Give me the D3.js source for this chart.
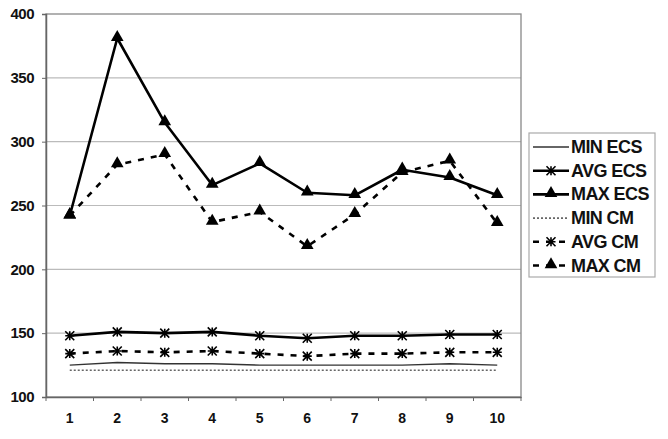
<!DOCTYPE html>
<html>
<head>
<meta charset="utf-8">
<script src="https://cdn.jsdelivr.net/npm/d3@7"></script>
<style>
  body { margin: 0; background: #fff; }
  text { font-family: "Liberation Sans", Arial, sans-serif; fill: #111; }
</style>
</head>
<body>
<svg id="chart" width="668" height="439"></svg>
<script>
// data
const categories = ["1","2","3","4","5","6","7","8","9","10"];
const yTicks = [100,150,200,250,300,350,400];

const minEcs = [125,127,126,126,125,125,125,125,126,125];
const avgEcs = [148,151,150,151,148,146,148,148,149,149];
const maxEcs = [242,381,315,266,283,260,258,278,272,258];
const minCm  = [121,121,121,121,121,121,121,121,121,121];
const avgCm  = [134,136,135,136,134,132,134,134,135,135];
const maxCm  = [242,282,290,237,245,218,243,276,285,236];

const seriesNames = ["MIN ECS","AVG ECS","MAX ECS","MIN CM","AVG CM","MAX CM"];

// style per series
const styles = [
  {vals: minEcs, stroke:"#333", width:1.4, dash:null,   marker:null},
  {vals: avgEcs, stroke:"#000", width:2.6, dash:null,   marker:"star"},
  {vals: maxEcs, stroke:"#000", width:2.6, dash:null,   marker:"tri"},
  {vals: minCm,  stroke:"#666", width:1.6, dash:"2,2",  marker:null},
  {vals: avgCm,  stroke:"#000", width:2.6, dash:"6,7",  marker:"star"},
  {vals: maxCm,  stroke:"#000", width:2.6, dash:"6,7",  marker:"tri"}
];

const svg = d3.select("#chart");
const m = {left:46, right:521, top:14, bottom:397};

const x = d3.scaleBand().domain(categories).range([m.left, m.right]);
const y = d3.scaleLinear().domain([100,400]).range([m.bottom, m.top]);

// gridlines
svg.append("g").selectAll("line")
  .data(yTicks.filter(d => d>100 && d<400))
  .enter().append("line")
  .attr("x1", m.left).attr("x2", m.right)
  .attr("y1", d => y(d)).attr("y2", d => y(d))
  .attr("stroke", "#bbb").attr("stroke-width", 1.2);

// frame
svg.append("rect")
  .attr("x", m.left).attr("y", m.top)
  .attr("width", m.right-m.left).attr("height", m.bottom-m.top)
  .attr("fill","none").attr("stroke","#888").attr("stroke-width",1.3);

// y axis
const yAxis = svg.append("g")
  .attr("transform", `translate(${m.left},0)`)
  .call(d3.axisLeft(y).tickValues(yTicks).tickSize(4).tickPadding(8));
yAxis.select(".domain").attr("stroke","#666").attr("stroke-width",1.5);
yAxis.selectAll(".tick line").attr("stroke","#666");
yAxis.selectAll("text").attr("font-size", 15).style("font-weight","bold").attr("fill","#222")
  .attr("letter-spacing", -0.5);

// x axis, ticks between categories
const xAxis = svg.append("g")
  .attr("transform", `translate(0,${m.bottom})`)
  .call(d3.axisBottom(x).tickSize(0).tickPadding(16));
xAxis.select(".domain").attr("stroke","#666").attr("stroke-width",1.5);
xAxis.selectAll("text").attr("font-size", 14).style("font-weight","bold").attr("fill","#222");
xAxis.selectAll(".sep")
  .data(d3.range(categories.length+1))
  .enter().append("line")
  .attr("x1", i => m.left + i*x.bandwidth()).attr("x2", i => m.left + i*x.bandwidth())
  .attr("y1", 0).attr("y2", 4).attr("stroke","#666");

const line = d3.line()
  .x((d,i) => x(categories[i]) + x.bandwidth()/2)
  .y(d => y(d));

function drawMarker(g, type, cx, cy){
  if(type == "tri"){
    g.append("path")
      .attr("d", d3.symbol().type(d3.symbolTriangle).size(70)())
      .attr("transform", `translate(${cx},${cy-1})`)
      .attr("fill","#000");
  }
  else if(type == "star"){
    const r = 4.5;
    g.append("path")
      .attr("d", `M${cx-r},${cy-r}L${cx+r},${cy+r}M${cx-r},${cy+r}L${cx+r},${cy-r}M${cx},${cy-r}L${cx},${cy+r}M${cx-r},${cy}L${cx+r},${cy}`)
      .attr("stroke","#000").attr("stroke-width",1.6).attr("fill","none");
  }
}

// series
styles.forEach(s => {
  const g = svg.append("g");
  g.append("path")
    .datum(s.vals)
    .attr("d", line)
    .attr("fill","none")
    .attr("stroke", s.stroke)
    .attr("stroke-width", s.width)
    .attr("stroke-dasharray", s.dash)
    .attr("stroke-linejoin","round");
  if(s.marker) s.vals.forEach((v,i) => drawMarker(g, s.marker, x(categories[i]) + x.bandwidth()/2, y(v)));
});

// legend
const leg = svg.append("g");
leg.append("rect")
  .attr("x", 529).attr("y", 133).attr("width", 126).attr("height", 144)
  .attr("fill","#fff").attr("stroke","#aaa").attr("stroke-width",1.2);

seriesNames.forEach((name, i) => {
  const s = styles[i];
  const ly = 147 + i*23.7;
  const g = leg.append("g");
  g.append("line")
    .attr("x1", 533).attr("x2", 569).attr("y1", ly).attr("y2", ly)
    .attr("stroke", s.stroke).attr("stroke-width", s.width)
    .attr("stroke-dasharray", s.dash);
  if(s.marker) drawMarker(g, s.marker, 551, ly);
  g.append("text")
    .attr("x", 571).attr("y", ly + 6)
    .attr("font-size", 18)
    .style("font-weight","bold")
    .attr("letter-spacing", -0.6)
    .text(name);
});
</script>
</body>
</html>
